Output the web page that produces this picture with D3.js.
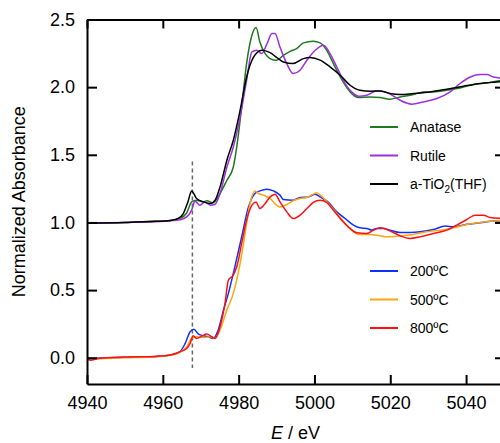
<!DOCTYPE html>
<html>
<head>
<meta charset="utf-8">
<script src="https://cdnjs.cloudflare.com/ajax/libs/d3/7.8.5/d3.min.js"></script>
<style>
  body { margin: 0; background: #fff; }
  svg text { font-family: "Liberation Sans", Arial, sans-serif; }
</style>
</head>
<body>
<div id="chart"></div>
<script>
// datos (E en eV, absorbancia normalizada)
const xTicks = [4940, 4960, 4980, 5000, 5020, 5040];
const yTicks = [0.0, 0.5, 1.0, 1.5, 2.0, 2.5];
const preEdge = 4967.8;

const anatase = [
  [4940,0.995],[4950,1.0],[4958,1.008],[4962,1.015],[4964.5,1.03],[4966.3,1.07],[4967.6,1.152],[4968.9,1.165],
  [4970.7,1.152],[4971.6,1.16],[4973.3,1.145],[4975.1,1.214],[4976.9,1.312],[4978.6,1.41],[4979.5,1.558],
  [4980.8,1.854],[4982.1,2.174],[4983.5,2.383],[4984.6,2.44],[4985.6,2.334],[4987,2.248],[4988.3,2.211],
  [4990,2.198],[4991.8,2.235],[4993.6,2.265],[4995.3,2.285],[4997.1,2.327],[4999.7,2.339],[5001.5,2.327],
  [5003.2,2.273],[5005,2.174],[5006.8,2.075],[5009.4,1.965],[5011.6,1.923],[5014.7,1.928],[5017.3,1.923],
  [5019.8,1.911],[5022.6,1.928],[5026.1,1.945],[5028.7,1.965],[5031.4,1.965],[5034.9,1.977],[5038.4,1.994],
  [5041.9,2.019],[5045.5,2.031],[5050,2.055]
];
const rutile = [
  [4940,0.995],[4950,1.0],[4958,1.005],[4962,1.012],[4964.5,1.02],[4966.3,1.041],[4967.6,1.091],[4968.5,1.157],
  [4969.8,1.128],[4971.1,1.152],[4972.5,1.128],[4973.8,1.135],[4975.1,1.214],[4976.9,1.41],[4978.6,1.558],
  [4980.4,1.78],[4982.1,2.051],[4983.5,2.26],[4984.8,2.273],[4986.1,2.248],[4987.5,2.322],[4988.8,2.396],
  [4989.6,2.396],[4990.9,2.297],[4992.7,2.174],[4994.4,2.1],[4996.2,2.125],[4998,2.199],[5000.2,2.273],
  [5002.4,2.31],[5004.1,2.248],[5005.9,2.149],[5007.6,2.051],[5009.8,1.965],[5011.6,1.933],[5013.8,1.94],
  [5016.4,1.972],[5018.6,1.965],[5020,1.948],[5022.6,1.903],[5025.7,1.874],[5028.7,1.891],[5032.3,1.916],
  [5035.8,1.965],[5038.4,2.027],[5041.1,2.075],[5043.7,2.093],[5045.5,2.093],[5047.2,2.075],[5050,2.065]
];
const thf = [
  [4940,0.995],[4950,1.0],[4958,1.008],[4962,1.015],[4964,1.03],[4965.4,1.066],[4966.6,1.15],[4967.6,1.233],
  [4968.9,1.177],[4970.7,1.152],[4972.5,1.14],[4973.8,1.165],[4975.1,1.263],[4976.9,1.46],[4978.6,1.608],
  [4980.4,1.83],[4982.1,2.075],[4983.9,2.22],[4986.1,2.273],[4988.3,2.255],[4990,2.22],[4991.8,2.186],
  [4994.4,2.174],[4997.1,2.211],[4998.8,2.219],[5001.5,2.2],[5004.1,2.15],[5006.8,2.088],[5009.4,2.014],
  [5012,1.977],[5014.7,1.97],[5017.3,1.972],[5019.9,1.953],[5022.6,1.945],[5026.1,1.953],[5030.5,1.965],
  [5034.9,1.985],[5039.3,2.007],[5043.7,2.027],[5050,2.042]
];
const t200 = [
  [4940,-0.005],[4950,0.003],[4958,0.01],[4962,0.02],[4964.5,0.044],[4965.9,0.106],[4967.2,0.192],[4968.2,0.21],
  [4969.4,0.175],[4970.7,0.163],[4972,0.155],[4973.3,0.143],[4974.6,0.205],[4976,0.352],[4977.3,0.476],
  [4979,0.672],[4980.8,0.894],[4982.6,1.115],[4984.3,1.214],[4985.6,1.233],[4987.4,1.246],[4989.2,1.233],
  [4990.9,1.202],[4991.8,1.17],[4994.4,1.165],[4996.2,1.185],[4998.4,1.189],[5000.2,1.209],[5001.5,1.189],
  [5003.7,1.148],[5005.9,1.078],[5008.1,1.029],[5010.3,0.98],[5012,0.96],[5013.8,0.956],[5015.1,0.943],
  [5016.4,0.956],[5018.2,0.956],[5019.9,0.943],[5022.6,0.926],[5025.2,0.926],[5027.9,0.931],[5031.4,0.948],
  [5034.5,0.973],[5036.7,0.968],[5040.2,0.987],[5043.7,0.997],[5047.2,1.01],[5050,1.013]
];
const t500 = [
  [4940,-0.01],[4950,0.0],[4958,0.008],[4962,0.018],[4964.5,0.04],[4966.3,0.081],[4967.6,0.143],[4968.9,0.155],
  [4970.7,0.15],[4972.5,0.155],[4973.8,0.143],[4975.1,0.205],[4976.9,0.352],[4978.6,0.476],[4980.4,0.697],
  [4981.7,0.919],[4983,1.14],[4984.3,1.233],[4985.2,1.214],[4986.5,1.202],[4988.3,1.177],[4990,1.128],
  [4990.9,1.115],[4992.7,1.133],[4994.4,1.16],[4996.2,1.177],[4998,1.185],[4999.7,1.209],[5000.6,1.219],
  [5001.9,1.194],[5003.7,1.14],[5005.9,1.066],[5008.1,0.993],[5010.3,0.931],[5012,0.911],[5014.7,0.911],
  [5017.3,0.901],[5019.1,0.894],[5022.6,0.901],[5026.1,0.911],[5029.6,0.931],[5033.1,0.943],[5036.7,0.96],
  [5040.2,0.985],[5043.7,1.0],[5047.2,1.01],[5050,1.017]
];
const t800 = [
  [4940,-0.01],[4941,-0.018],[4943,-0.005],[4950,0.005],[4958,0.01],[4962,0.02],[4964.5,0.044],[4966.3,0.069],
  [4967.2,0.106],[4968,0.163],[4968.9,0.143],[4970.3,0.16],[4971.6,0.175],[4972.9,0.155],[4973.8,0.143],
  [4975.1,0.229],[4976.4,0.402],[4977.3,0.574],[4978.6,0.611],[4979.5,0.672],[4980.8,0.845],[4982.1,1.017],
  [4983.5,1.128],[4984.6,1.152],[4985.6,1.103],[4987,1.14],[4988.3,1.189],[4989.6,1.209],[4990.9,1.152],
  [4992.7,1.078],[4994.4,1.029],[4996.2,1.054],[4998,1.103],[4999.7,1.148],[5001.5,1.165],[5003.2,1.148],
  [5005,1.091],[5007.2,1.017],[5009.4,0.956],[5011.2,0.923],[5013.8,0.919],[5015.6,0.943],[5017.3,0.96],
  [5019.9,0.938],[5022.6,0.901],[5025.2,0.882],[5027.9,0.894],[5031.4,0.919],[5034.9,0.943],[5037.5,0.98],
  [5040.2,1.022],[5042.4,1.054],[5044.6,1.054],[5046.3,1.037],[5050,1.029]
];

const seriesTop = [
  { name: "Anatase", data: anatase, color: "#1f7a1f" },
  { name: "Rutile", data: rutile, color: "#9d30dd" },
  { name: "a-TiO2(THF)", data: thf, color: "#000000" }
];
const seriesBottom = [
  { name: "200ºC", data: t200, color: "#1030ff" },
  { name: "500ºC", data: t500, color: "#ffa510" },
  { name: "800ºC", data: t800, color: "#ff1010" }
];

const svgWidth = 500;
const svgHeight = 443;
const margin = { top: 19.5, left: 87 };
const width = 417;
const height = 364.5;

const svg = d3.select("#chart").append("svg")
  .attr("width", svgWidth)
  .attr("height", svgHeight);

const g = svg.append("g")
  .attr("transform", `translate(${margin.left},${margin.top})`);

const xScale = d3.scaleLinear().domain([4940, 5050]).range([0, width]);
const yScale = d3.scaleLinear().domain([-0.194, 2.5]).range([height, 0]);

g.append("clipPath").attr("id", "clip")
  .append("rect").attr("width", width).attr("height", height);

const line = d3.line()
  .x(d => xScale(d[0]))
  .y(d => yScale(d[1]))
  .curve(d3.curveMonotoneX);

// linea discontinua del pre-borde
g.append("line")
  .attr("x1", xScale(preEdge)).attr("x2", xScale(preEdge))
  .attr("y1", yScale(1.45)).attr("y2", yScale(-0.075))
  .attr("stroke", "#666").attr("stroke-width", 1.5)
  .attr("stroke-dasharray", "4,3");

const plot = g.append("g").attr("clip-path", "url(#clip)");
seriesTop.concat(seriesBottom).forEach(s => {
  plot.append("path")
    .datum(s.data)
    .attr("fill", "none")
    .attr("stroke", s.color)
    .attr("stroke-width", 1.5)
    .attr("d", line);
});

// ejes (ticks hacia adentro)
const styleAxis = sel => {
  sel.selectAll("path, line").attr("stroke", "#000").attr("stroke-width", 2);
  sel.selectAll("text").attr("fill", "#000").style("font-size", "18px");
};

g.append("g").attr("transform", `translate(0,${height})`)
  .call(d3.axisBottom(xScale).tickValues(xTicks).tickSize(-9).tickSizeOuter(0).tickPadding(12)
    .tickFormat(d3.format("d")))
  .call(styleAxis);

g.append("g")
  .call(d3.axisTop(xScale).tickValues(xTicks).tickSize(-9).tickSizeOuter(0).tickFormat(""))
  .call(styleAxis);

g.append("g")
  .call(d3.axisLeft(yScale).tickValues(yTicks).tickSize(-10).tickSizeOuter(0).tickPadding(12)
    .tickFormat(d3.format(".1f")))
  .call(styleAxis);

g.append("g").attr("transform", `translate(${width},0)`)
  .call(d3.axisRight(yScale).tickValues(yTicks).tickSize(-9).tickSizeOuter(0).tickFormat(""))
  .call(styleAxis);

// titulos
const xTitle = svg.append("text")
  .attr("x", margin.left + width / 2)
  .attr("y", 439)
  .attr("text-anchor", "middle")
  .style("font-size", "18px");
xTitle.append("tspan").style("font-style", "italic").text("E");
xTitle.append("tspan").text(" / eV");

svg.append("text")
  .attr("transform", "rotate(-90)")
  .attr("x", -(margin.top + height / 2))
  .attr("y", 25)
  .attr("text-anchor", "middle")
  .style("font-size", "18px")
  .text("Normalized Absorbance");

// leyendas
function legend(series, yStart) {
  series.forEach((s, i) => {
    const yy = yStart + i * 28.5;
    svg.append("line")
      .attr("x1", 370).attr("x2", 398)
      .attr("y1", yy).attr("y2", yy)
      .attr("stroke", s.color).attr("stroke-width", 2);
    const t = svg.append("text")
      .attr("x", 410).attr("y", yy + 5)
      .style("font-size", "14px");
    if (s.name === "a-TiO2(THF)") {
      t.append("tspan").text("a-TiO");
      t.append("tspan").attr("dy", 4).style("font-size", "10px").text("2");
      t.append("tspan").attr("dy", -4).text("(THF)");
    } else {
      t.text(s.name);
    }
  });
}
legend(seriesTop, 127);
legend(seriesBottom, 271);
</script>
</body>
</html>
